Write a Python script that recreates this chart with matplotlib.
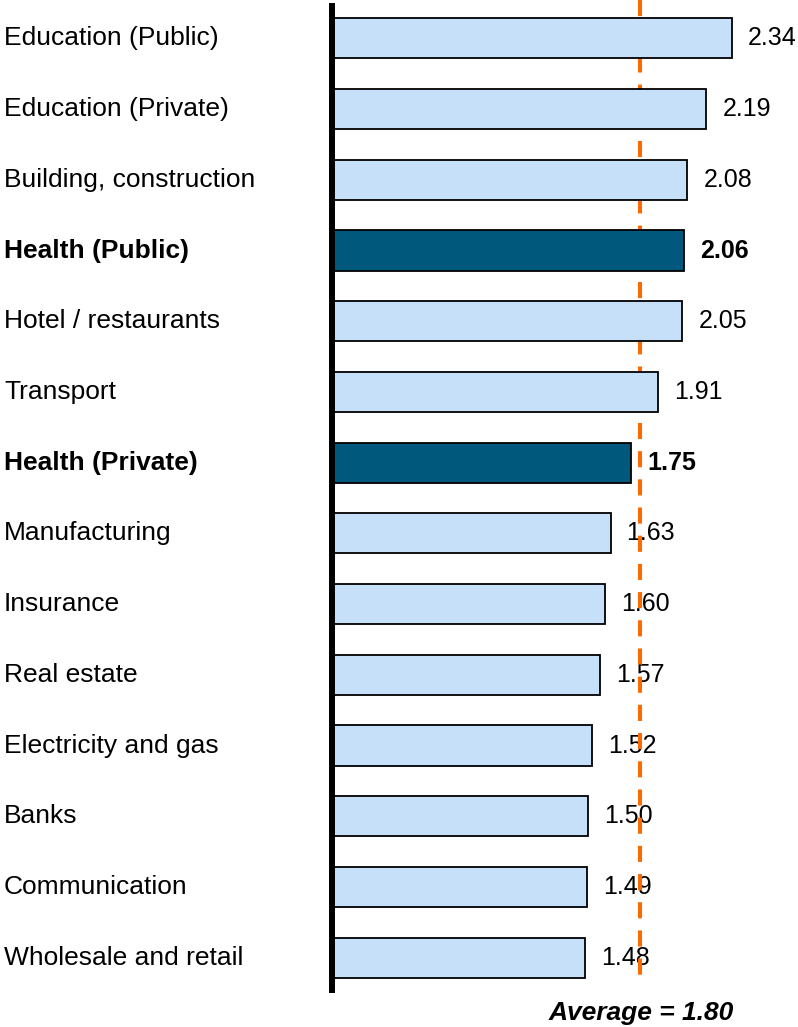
import matplotlib
matplotlib.use("Agg")
import matplotlib.pyplot as plt
import matplotlib.transforms as mtransforms

categories = ["Education (Public)", "Education (Private)", "Building, construction",
              "Health (Public)", "Hotel / restaurants", "Transport", "Health (Private)",
              "Manufacturing", "Insurance", "Real estate", "Electricity and gas",
              "Banks", "Communication", "Wholesale and retail"]
values = [2.34, 2.19, 2.08, 2.06, 2.05, 1.91, 1.75, 1.63, 1.60, 1.57, 1.52, 1.50, 1.49, 1.48]
highlight = ["Health (Public)", "Health (Private)"]
average = 1.80

W, H = 798, 1027
fig = plt.figure(figsize=(W / 100, H / 100), dpi=100)
ax = fig.add_axes([332 / W, (H - 993) / H, (W - 332) / W, (993 - 3) / H])

light = "#C6E0FA"
dark = "#00587C"
orange = "#FF6A00"

ypos = list(range(len(categories)))
colors = [dark if c in highlight else light for c in categories]
ax.barh(ypos, values, height=0.566, color=colors, edgecolor="black", linewidth=1.3, zorder=3)

ax.set_xlim(0, (W - 332) / 170.9)
ax.set_ylim(len(categories) - 0.5, -0.5)

# average dashed line (behind bars)
ax.plot([average, average], [-0.54, 13.27], color=orange, linewidth=2.9,
        dashes=(4.0, 3.0), zorder=2, clip_on=False, dash_capstyle="butt")

for y, v, c in zip(ypos, values, categories):
    bold = c in highlight
    ax.annotate(f"{v:.2f}", xy=(v, y), xytext=(16, 0), textcoords="offset pixels",
                ha="left", va="center", fontsize=18, family="Liberation Sans",
                fontweight="bold" if bold else "normal", zorder=1)

trans = mtransforms.blended_transform_factory(fig.transFigure, ax.transData)
for y, c in zip(ypos, categories):
    bold = c in highlight
    ax.text(4 / W, y, c, transform=trans, ha="left", va="center", fontsize=19,
            family="Liberation Sans", fontweight="bold" if bold else "normal", clip_on=False)

for side in ["top", "right", "bottom"]:
    ax.spines[side].set_visible(False)
ax.spines["left"].set_linewidth(4.3)
ax.spines["left"].set_capstyle("butt")
ax.spines["left"].set_zorder(4)
ax.set_xticks([])
ax.set_yticks([])
ax.patch.set_visible(False)

fig.text(641 / W, (H - 1020) / H, f"Average = {average:.2f}", ha="center", va="baseline",
         fontsize=19, family="Liberation Sans", fontweight="bold", fontstyle="italic")

fig.savefig("out.png", dpi=100)
